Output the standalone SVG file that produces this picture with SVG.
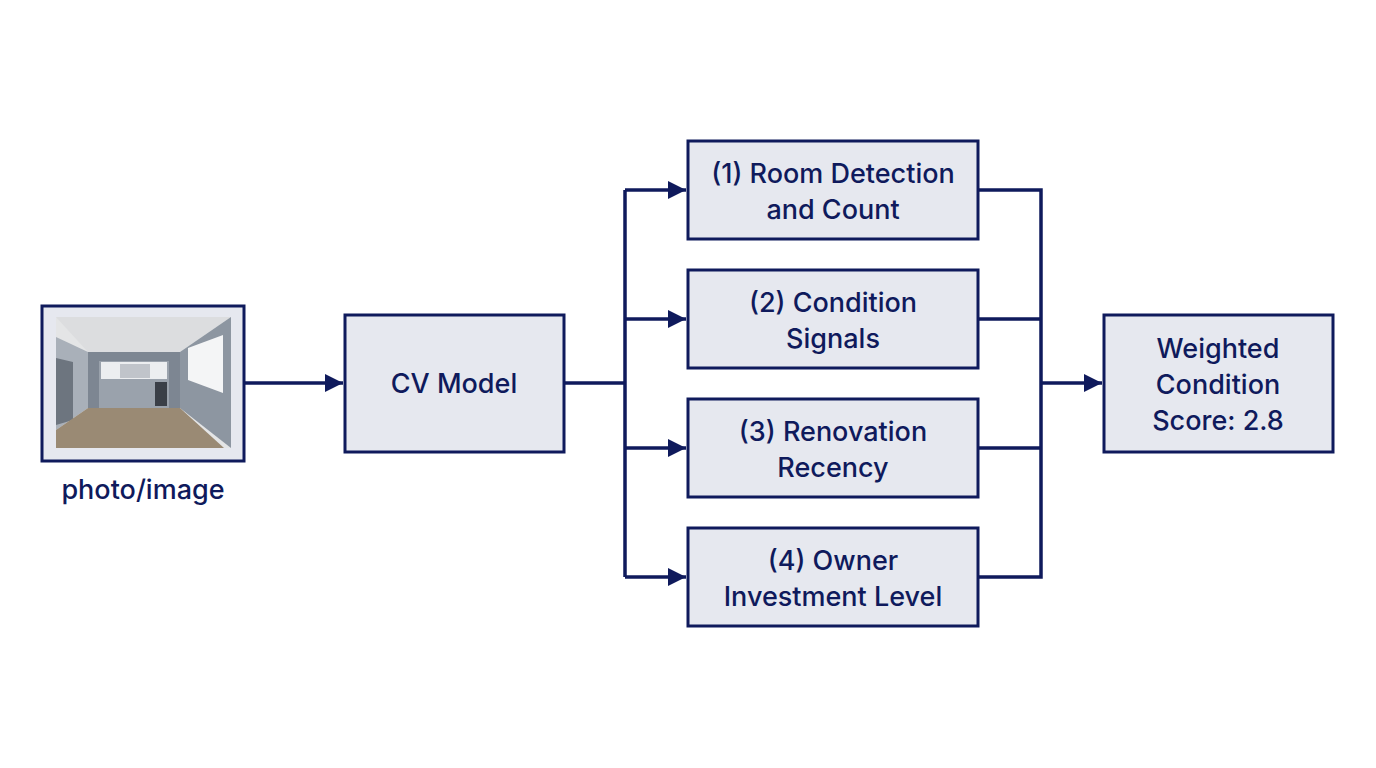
<svg xmlns="http://www.w3.org/2000/svg" width="1376" height="768" viewBox="0 0 1376 768">
<style>
.box{fill:#e6e8ef;stroke:#0f1a5c;stroke-width:3}
.t{font-family:Inter,"Liberation Sans",sans-serif;font-size:27px;font-weight:500;fill:#0f1a5c;text-anchor:middle}
.c{fill:none;stroke:#0f1a5c;stroke-width:3.5}
</style>
<defs>
<marker id="ab" markerWidth="18" markerHeight="18" refX="18" refY="9" orient="auto" markerUnits="userSpaceOnUse" viewBox="0 0 18 18"><path d="M0,0L18,9L0,18z" fill="#0f1a5c"/></marker></defs>
<rect width="1376" height="768" fill="#fff"/>
<g id="photo">
<rect class="box" x="42" y="306" width="202" height="155"/>
<rect x="56" y="317" width="175" height="131" fill="#e4e5e6"/>
<polygon points="56,317 231,317 180,352 88,352" fill="#dcdddf"/>
<polygon points="56,337 88,352 88,408 56,430" fill="#a9b0b9"/>
<polygon points="56,358 73,362 73,420 56,425" fill="#6d757f"/>
<rect x="88" y="352" width="92" height="56" fill="#7d8692"/>
<rect x="99" y="361" width="70" height="47" fill="#9aa2ac"/>
<rect x="101" y="362" width="66" height="17" fill="#eceef0"/>
<rect x="120" y="364" width="30" height="14" fill="#c0c4ca"/>
<rect x="155" y="382" width="12" height="24" fill="#3a3f47"/>
<polygon points="180,352 231,317 231,448 180,408" fill="#8d96a1"/>
<polygon points="188,348 223,335 223,393 188,380" fill="#f4f5f6"/>
<polygon points="56,430 88,408 180,408 224,448 56,448" fill="#9a8a74"/>
<text class="t" x="143" y="499">photo/image</text>
</g>
<g id="cv"><rect class="box" x="345" y="315" width="219" height="137"/><text class="t" x="454" y="393">CV Model</text></g>
<g id="n1"><rect class="box" x="688" y="141" width="290" height="98"/><text class="t" x="833" y="183">(1) Room Detection</text><text class="t" x="833" y="219">and Count</text></g>
<g id="n2"><rect class="box" x="688" y="270" width="290" height="98"/><text class="t" x="833" y="312">(2) Condition</text><text class="t" x="833" y="348">Signals</text></g>
<g id="n3"><rect class="box" x="688" y="399" width="290" height="98"/><text class="t" x="833" y="441">(3) Renovation</text><text class="t" x="833" y="477">Recency</text></g>
<g id="n4"><rect class="box" x="688" y="528" width="290" height="98"/><text class="t" x="833" y="570">(4) Owner</text><text class="t" x="833" y="606">Investment Level</text></g>
<g id="out"><rect class="box" x="1104" y="315" width="229" height="137"/><text class="t" x="1218" y="358">Weighted</text><text class="t" x="1218" y="394">Condition</text><text class="t" x="1218" y="430">Score: 2.8</text></g>
<g id="connectors">
<path class="c" d="M244,383H343" marker-end="url(#ab)"/>
<path class="c" d="M564,383H625M625,190V577"/>
<path class="c" d="M625,190H686" marker-end="url(#ab)"/>
<path class="c" d="M625,319H686" marker-end="url(#ab)"/>
<path class="c" d="M625,448H686" marker-end="url(#ab)"/>
<path class="c" d="M625,577H686" marker-end="url(#ab)"/>
<path class="c" d="M978,190H1041V577H978M978,319H1041M978,448H1041"/>
<path class="c" d="M1041,383H1102" marker-end="url(#ab)"/>
</g>
</svg>
